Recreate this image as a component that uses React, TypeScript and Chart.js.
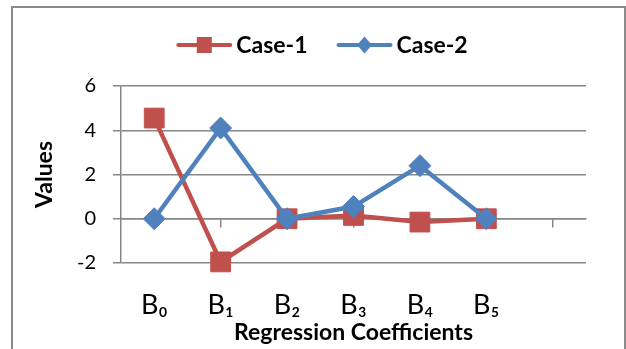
import React, { useEffect, useRef } from 'react';
import { Chart, registerables } from 'chart.js';

Chart.register(...registerables);

// ---- data ----
const categories = ['B₀', 'B₁', 'B₂', 'B₃', 'B₄', 'B₅', ''];
const seriesNames = ['Case-1', 'Case-2'];
const case1Values = [4.55, -1.95, 0.0, 0.15, -0.15, 0.0];
const case2Values = [0.0, 4.1, 0.0, 0.55, 2.4, 0.0];
const yMin = -2;
const yMax = 6;
const yStep = 2;
const xTitle = 'Regression Coefficients';
const yTitle = 'Values';

// ---- styles ----
const RED = '#C0504D';
const BLUE = '#4F81BD';
const GRID = '#868686';
const FONT = 'Lato, "Open Sans", sans-serif';

const framePlugin = {
  id: 'frame',
  beforeDraw(chart: any) {
    const ctx = chart.ctx;
    ctx.save();
    ctx.fillStyle = '#ffffff';
    ctx.fillRect(0, 0, chart.width, chart.height);
    ctx.restore();
  },
  afterDraw(chart: any) {
    const ctx = chart.ctx;
    ctx.save();
    ctx.strokeStyle = '#8a8a8a';
    ctx.lineWidth = 2;
    ctx.strokeRect(12, 7, chart.width - 13, chart.height + 20);
    ctx.restore();
  },
};

const lineLegendPlugin = {
  id: 'lineLegend',
  afterDraw(chart: any) {
    const ctx = chart.ctx;
    ctx.save();
    ctx.font = `bold 23px ${FONT}`;
    const sampleW = 56;
    const gap = 4;
    const spacing = 29;
    const items = chart.data.datasets.map((ds: any) => ({
      ds,
      w: sampleW + gap + ctx.measureText(ds.label).width,
    }));
    const total = items.reduce((a: number, b: any) => a + b.w, 0) + spacing * (items.length - 1);
    let x = 322 - total / 2;
    const y = 45;
    items.forEach(({ ds, w }: any) => {
      ctx.strokeStyle = ds.borderColor;
      ctx.lineWidth = 4;
      ctx.lineCap = 'round';
      ctx.beginPath();
      ctx.moveTo(x + 2, y);
      ctx.lineTo(x + sampleW - 2, y);
      ctx.stroke();
      const cx = x + sampleW / 2;
      ctx.fillStyle = ds.pointBackgroundColor;
      if (ds.pointStyle === 'rect') {
        ctx.fillRect(cx - 7.5, y - 8, 15, 16);
      } else {
        ctx.beginPath();
        ctx.moveTo(cx, y - 8.5);
        ctx.lineTo(cx + 7.5, y);
        ctx.lineTo(cx, y + 8.5);
        ctx.lineTo(cx - 7.5, y);
        ctx.closePath();
        ctx.fill();
      }
      ctx.fillStyle = '#000';
      ctx.textBaseline = 'middle';
      ctx.textAlign = 'left';
      ctx.fillText(ds.label, x + sampleW + gap, y + 1);
      x += w + spacing;
    });
    ctx.restore();
  },
};

export default function App() {
  const canvasRef = useRef<HTMLCanvasElement | null>(null);

  useEffect(() => {
    if (!canvasRef.current) return;
    const chart = new Chart(canvasRef.current, {
      type: 'line',
      data: {
        labels: categories,
        datasets: [
          {
            label: seriesNames[0],
            data: case1Values,
            borderColor: RED,
            backgroundColor: RED,
            pointBackgroundColor: RED,
            pointBorderColor: RED,
            pointStyle: 'rect',
            pointRadius: 14,
            pointBorderWidth: 1,
            borderWidth: 4.5,
            tension: 0,
            order: 1,
            clip: false,
          },
          {
            label: seriesNames[1],
            data: case2Values,
            borderColor: BLUE,
            backgroundColor: BLUE,
            pointBackgroundColor: BLUE,
            pointBorderColor: BLUE,
            pointStyle: 'rectRot',
            pointRadius: 11,
            pointBorderWidth: 1,
            borderWidth: 4.5,
            tension: 0,
            order: 0,
            clip: false,
          },
        ],
      },
      options: {
        responsive: false,
        animation: false,
        layout: { padding: { left: 12, right: 40, top: 86, bottom: 0 } },
        plugins: {
          legend: { display: false },
          tooltip: { enabled: false },
        },
        scales: {
          x: {
            type: 'category',
            position: 'bottom',
            offset: true,
            grid: { display: false },
            border: { display: false },
            ticks: {
              font: { family: FONT, size: 27 },
              color: '#000',
              padding: 18,
              autoSkip: false,
              maxRotation: 0,
            },
            title: {
              display: true,
              text: xTitle,
              font: { family: FONT, size: 23, weight: 'bold' },
              color: '#000',
              padding: { top: 0, bottom: 3 },
            },
            afterFit: (s: any) => {
              s.height = 86;
            },
          },
          x0: {
            type: 'category',
            position: { y: 0 },
            offset: true,
            grid: {
              display: true,
              drawOnChartArea: false,
              drawTicks: true,
              tickLength: 8,
              color: GRID,
              lineWidth: 1.5,
            },
            border: { display: true, color: GRID, width: 1.5 },
            ticks: { display: false },
          },
          y: {
            min: yMin,
            max: yMax,
            ticks: {
              stepSize: yStep,
              font: { family: FONT, size: 20 },
              color: '#000',
              padding: 17,
            },
            grid: { color: GRID, lineWidth: 1.5, tickLength: 8 },
            border: { color: GRID, width: 1.5 },
            title: {
              display: true,
              text: yTitle,
              font: { family: FONT, size: 23, weight: 'bold' },
              color: '#000',
              padding: { top: 19, bottom: 0 },
            },
            afterFit: (s: any) => {
              s.width = 109;
            },
          },
        },
      } as any,
      plugins: [framePlugin, lineLegendPlugin],
    });
    return () => chart.destroy();
  }, []);

  return (
    <div style={{ position: 'fixed', left: 0, top: 0, width: 626, height: 349 }}>
      <canvas ref={canvasRef} width={626} height={349} style={{ display: 'block' }} />
    </div>
  );
}
